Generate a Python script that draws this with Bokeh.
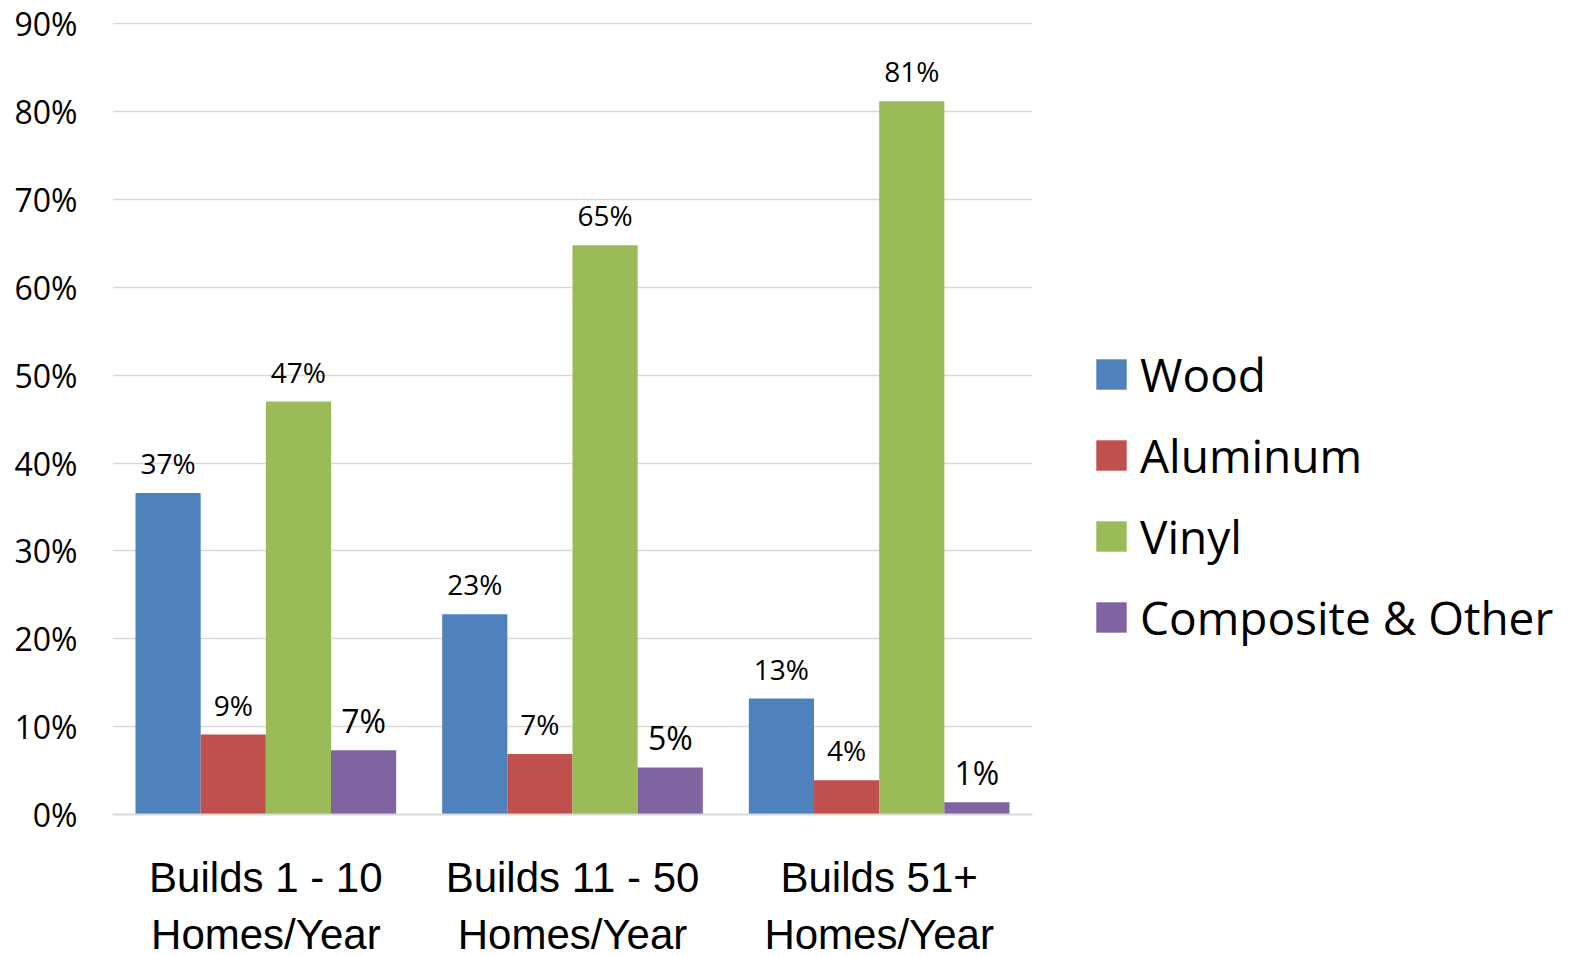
from bokeh.plotting import figure
from bokeh.models import (FactorRange, Range1d, Legend, LegendItem, FixedTicker,
                          PrintfTickFormatter, ColumnDataSource)
from bokeh.transform import dodge
from bokeh.core.properties import value
from bokeh.embed import file_html
from bokeh.resources import INLINE

# ---- data ----
categories = ["Builds 1 - 10\nHomes/Year", "Builds 11 - 50\nHomes/Year", "Builds 51+\nHomes/Year"]
series_names = ["Wood", "Aluminum", "Vinyl", "Composite & Other"]
wood = [36.6, 22.8, 13.2]
aluminum = [9.1, 6.9, 3.9]
vinyl = [47.0, 64.8, 81.2]
composite = [7.3, 5.35, 1.4]
y_ticks = [0, 10, 20, 30, 40, 50, 60, 70, 80, 90]

# ---- styles ----
colors = ["#4F81BD", "#C0504D", "#9BBB59", "#8064A2"]
label_sizes = ["28px", "28px", "28px", "32px"]
bar_w = 0.2125

p = figure(x_range=FactorRange(*categories), y_range=Range1d(0, 90.15),
           frame_width=920, frame_height=792, output_backend="svg",
           toolbar_location=None,
           min_border_left=112, min_border_right=0, min_border_top=22,
           min_border_bottom=10)
p.outline_line_color = None
p.background_fill_color = "white"
p.xgrid.grid_line_color = None
p.ygrid.grid_line_color = "#D9D9D9"
p.ygrid.grid_line_width = 1.5

p.yaxis.ticker = FixedTicker(ticks=y_ticks)
p.yaxis.formatter = PrintfTickFormatter(format="%d%%")
p.yaxis.axis_line_color = None
p.yaxis.major_tick_line_color = None
p.yaxis.minor_tick_line_color = None
p.yaxis.major_label_text_font = "Open Sans"
p.yaxis.major_label_text_font_size = "32px"
p.yaxis.major_label_text_color = "black"
p.yaxis.major_label_standoff = 29

p.xaxis.axis_line_color = "#D9D9D9"
p.xaxis.axis_line_width = 2
p.xaxis.major_tick_line_color = None
p.xaxis.minor_tick_line_color = None
p.xaxis.major_label_text_font = "Liberation Sans"
p.xaxis.major_label_text_font_size = "42px"
p.xaxis.major_label_text_color = "black"
p.xaxis.major_label_text_line_height = 1.22
p.xaxis.major_label_standoff = 33

items = []
for i, (name, vals) in enumerate(zip(series_names, [wood, aluminum, vinyl, composite])):
    src = ColumnDataSource(dict(cat=categories, y=vals,
                                label=[f"{v:.0f}%" for v in vals]))
    off = (-1.5 + i) * bar_w
    r = p.vbar(x=dodge("cat", off, range=p.x_range), top="y", width=bar_w,
               source=src, fill_color=colors[i], line_color=None)
    p.text(x=dodge("cat", off, range=p.x_range), y="y", text="label", source=src,
           text_align="center", text_baseline="alphabetic", y_offset=-30,
           text_font=value("Open Sans"), text_font_size=label_sizes[i],
           text_color="black")
    items.append(LegendItem(label=name, renderers=[r]))

legend = Legend(items=items, location=(60, 166), glyph_width=38, glyph_height=38,
                label_standoff=10, label_text_font="Open Sans",
                label_text_font_size="46px", label_text_color="black",
                spacing=19, padding=0, margin=0,
                border_line_color=None, background_fill_alpha=0)
p.add_layout(legend, "right")

open("out.html", "w").write(file_html(p, INLINE))
